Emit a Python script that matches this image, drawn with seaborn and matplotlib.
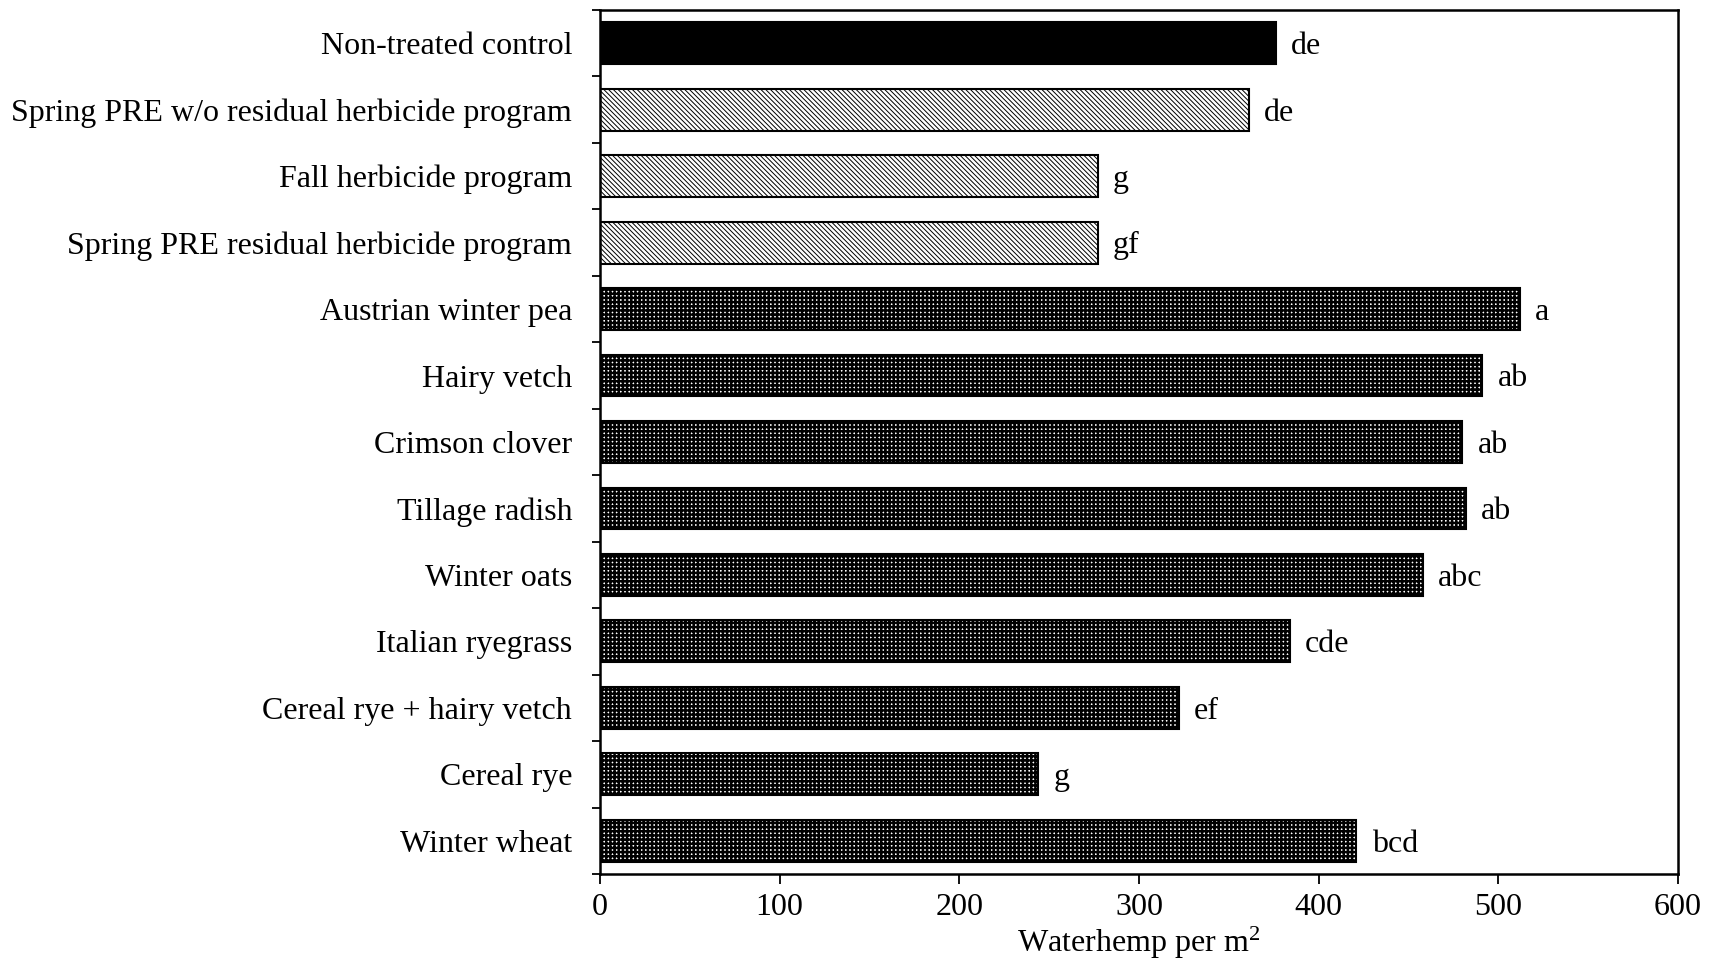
import numpy as np
import pandas as pd
import matplotlib
matplotlib.use("Agg")
import matplotlib.pyplot as plt
import seaborn as sns

# Treatments, mean waterhemp density and mean-separation letters
treatments = [
    "Non-treated control",
    "Spring PRE w/o residual herbicide program",
    "Fall herbicide program",
    "Spring PRE residual herbicide program",
    "Austrian winter pea",
    "Hairy vetch",
    "Crimson clover",
    "Tillage radish",
    "Winter oats",
    "Italian ryegrass",
    "Cereal rye + hairy vetch",
    "Cereal rye",
    "Winter wheat",
]
density = [376, 361, 277, 277, 512, 491, 480, 482, 458, 384, 322, 244, 421]
letters = ["de", "de", "g", "gf", "a", "ab", "ab", "ab", "abc", "cde", "ef", "g", "bcd"]
groups = ["control", "herbicide", "herbicide", "herbicide"] + ["cover crop"] * 9
x_ticks = [0, 100, 200, 300, 400, 500, 600]

df = pd.DataFrame({"treatment": treatments, "density": density, "group": groups})

sns.set_theme(style="white")
plt.rcParams["font.family"] = ["Liberation Serif", "DejaVu Serif"]
plt.rcParams["mathtext.fontset"] = "custom"
plt.rcParams["mathtext.rm"] = "Liberation Serif"
plt.rcParams["mathtext.it"] = "Liberation Serif:italic"

fig = plt.figure(figsize=(17.17, 9.63), dpi=100)
ax = fig.add_axes([0.3494, 0.0924, 0.6279, 0.8972])

sns.barplot(data=df, y="treatment", x="density", order=treatments, orient="h",
            color="white", saturation=1, width=0.63, edgecolor="black",
            linewidth=1.5, errorbar=None, ax=ax)

# Fill styles per treatment group
styles = {
    "control": dict(facecolor="black", hatch=None, hlw=1.0),
    "herbicide": dict(facecolor="white", hatch="\\" * 7, hlw=0.7),
    "cover crop": dict(facecolor="white", hatch="++++", hlw=1.8),
}
for patch, grp in zip(ax.patches, groups):
    st = styles[grp]
    patch.set_facecolor(st["facecolor"])
    patch.set_edgecolor("black")
    if st["hatch"]:
        patch.set_hatch(st["hatch"])
        if hasattr(patch, "set_hatch_linewidth"):
            patch.set_hatch_linewidth(st["hlw"])

# Letters next to each bar
for i, (v, lab) in enumerate(zip(density, letters)):
    ax.text(v + 8.5, i + 0.05, lab, va="center", ha="left", fontsize=23, color="black")

ax.set_xlim(0, 600)
ax.set_ylim(12.5, -0.5)
ax.set_xticks(x_ticks)
ax.set_xticklabels([str(t) for t in x_ticks], fontsize=23)
ax.set_yticks(range(len(treatments)))
ax.set_yticklabels(treatments, fontsize=23)
ax.set_yticks(np.arange(-0.5, len(treatments), 1.0), minor=True)

ax.tick_params(axis="y", which="major", length=0, pad=20, colors="black")
ax.tick_params(axis="y", which="minor", length=6, width=1.3, direction="out", left=True, color="black")
ax.tick_params(axis="x", which="major", length=7, width=1.3, direction="out", pad=7,
               bottom=True, colors="black")

ax.set_xlabel(r"Waterhemp per m$^{2}$", fontsize=23, labelpad=2, color="black")
ax.set_ylabel("")

for side in ["top", "bottom", "left", "right"]:
    ax.spines[side].set_visible(True)
    ax.spines[side].set_color("black")
    ax.spines[side].set_linewidth(1.8)

fig.savefig("out.png", dpi=100, facecolor="white")
